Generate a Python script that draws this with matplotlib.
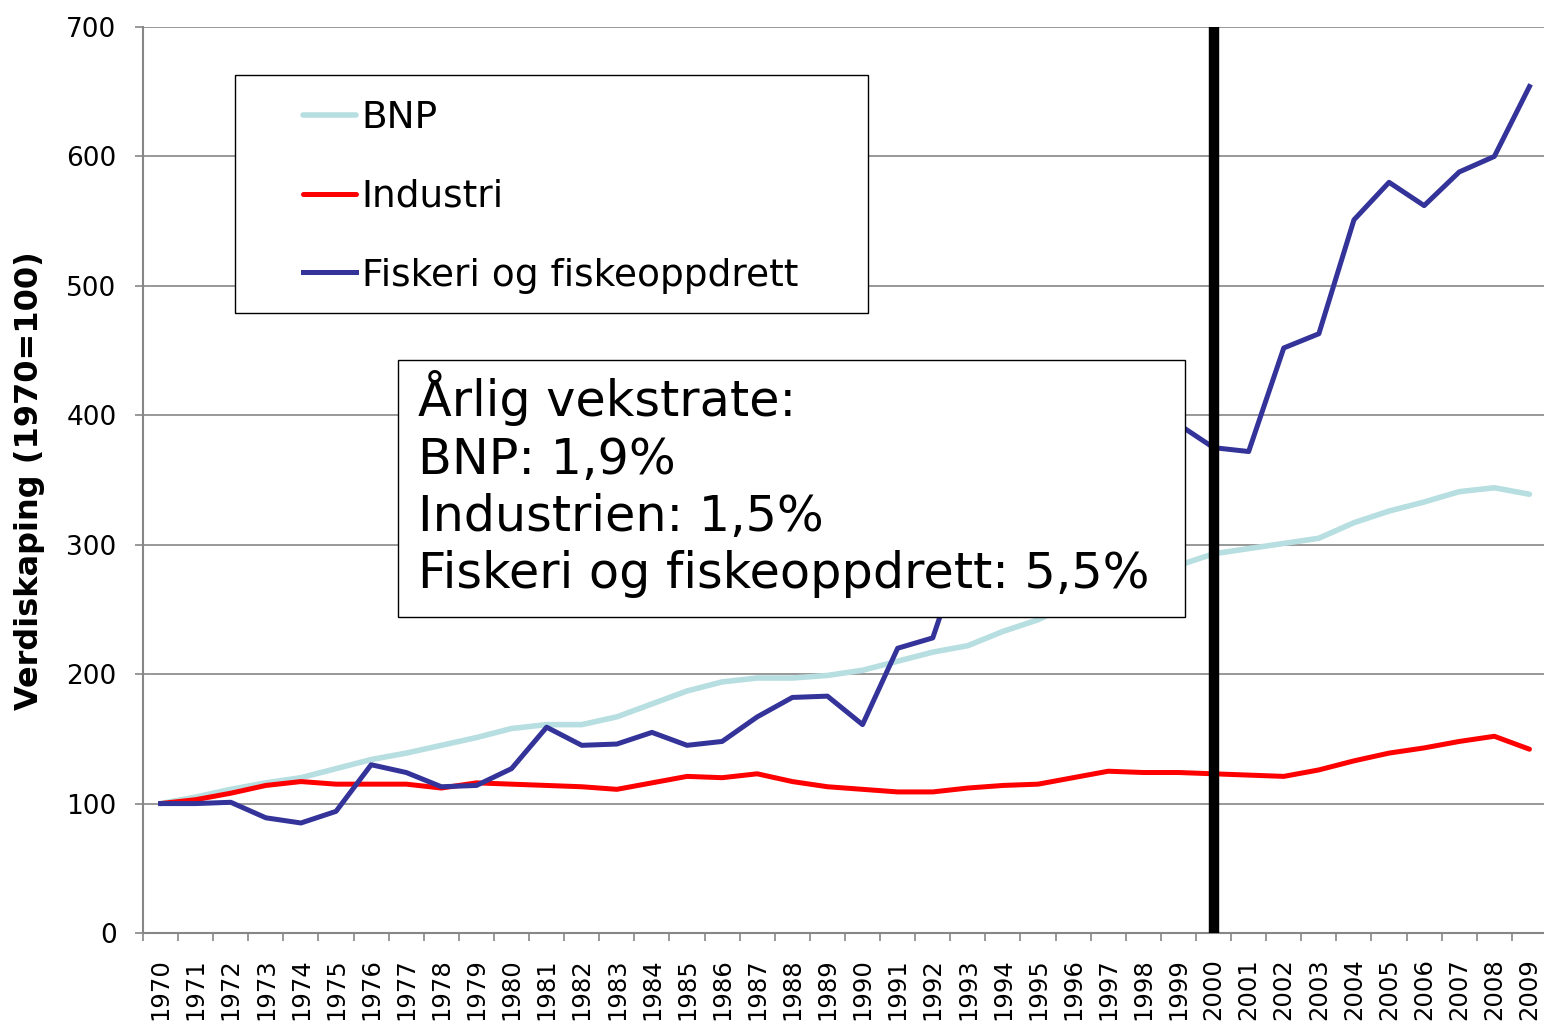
import matplotlib
matplotlib.use("Agg")
import matplotlib.pyplot as plt
from matplotlib.patches import Rectangle

# data (1970 = 100)
years = list(range(1970, 2010))
bnp = [100, 105, 111, 116, 120, 127, 134, 139, 145, 151,
       158, 161, 161, 167, 177, 187, 194, 197, 197, 199,
       203, 210, 217, 222, 233, 242, 255, 265, 274, 284,
       293, 297, 301, 305, 317, 326, 333, 341, 344, 339]
industri = [100, 103, 108, 114, 117, 115, 115, 115, 112, 116,
            115, 114, 113, 111, 116, 121, 120, 123, 117, 113,
            111, 109, 109, 112, 114, 115, 120, 125, 124, 124,
            123, 122, 121, 126, 133, 139, 143, 148, 152, 142]
fiskeri = [100, 100, 101, 89, 85, 94, 130, 124, 113, 114,
           127, 159, 145, 146, 155, 145, 148, 167, 182, 183,
           161, 220, 228, 308, 330, 345, 360, 385, 410, 393,
           375, 372, 452, 463, 551, 580, 562, 588, 600, 654]

W, H = 1544, 1026
fig = plt.figure(figsize=(W / 100, H / 100), dpi=100)
ax = fig.add_axes([143 / W, (H - 933) / H, 1404 / W, 906 / H])

grid_c = "#868686"
ax.plot(years, bnp, color="#b7dee0", lw=4, label="BNP", solid_capstyle="round")
ax.plot(years, industri, color="#ff0000", lw=3.6, label="Industri", solid_capstyle="round")
ax.plot(years, fiskeri, color="#333399", lw=3.6, label="Fiskeri og fiskeoppdrett")
ax.axvline(2000, color="black", lw=7.5, zorder=5)

ax.set_xlim(1969.5, 2009.5)
ax.set_ylim(0, 700)
ax.set_yticks(range(0, 701, 100))
ax.yaxis.grid(True, color=grid_c, lw=1.2)
ax.set_axisbelow(True)
ax.set_xticks(years)
ax.set_xticklabels([str(y) for y in years], rotation=90, va="top")
ax.set_xticks([y - 0.5 for y in years], minor=True)
ax.tick_params(axis="x", which="major", length=0, pad=18, labelsize=17.5)
ax.tick_params(axis="x", which="minor", length=6, width=1.2, color=grid_c, direction="out")
ax.tick_params(axis="y", length=6, width=1.2, color=grid_c, pad=13, labelsize=19)
for s in ["top", "right"]:
    ax.spines[s].set_visible(False)
for s in ["left", "bottom"]:
    ax.spines[s].set_color(grid_c)
    ax.spines[s].set_linewidth(1.5)

fig.text(30 / W, 1 - 481 / H, "Verdiskaping (1970=100)", rotation=90,
         ha="center", va="center", fontsize=23, fontweight="bold")

# legend box
ax.add_patch(Rectangle((235 / W, 1 - 313 / H), 633 / W, 238 / H,
                       transform=fig.transFigure, facecolor="white",
                       edgecolor="black", lw=1, zorder=6, clip_on=False))
leg = ax.legend(loc="upper left", bbox_to_anchor=(303 / W, 1 - 100 / H),
                bbox_transform=fig.transFigure, frameon=False, fontsize=27,
                handlelength=1.4, handletextpad=0.16, labelspacing=1.14,
                borderpad=0, borderaxespad=0)
leg.set_zorder(7)

# growth rate box
ax.add_patch(Rectangle((398 / W, 1 - 617 / H), 787 / W, 257 / H,
                       transform=fig.transFigure, facecolor="white",
                       edgecolor="black", lw=1, zorder=6, clip_on=False))
ax.text(418 / W, 1 - 370 / H,
        "Årlig vekstrate:\nBNP: 1,9%\nIndustrien: 1,5%\nFiskeri og fiskeoppdrett: 5,5%",
        transform=fig.transFigure, ha="left", va="top", fontsize=35.5,
        linespacing=1.25, zorder=7)

fig.savefig("out.png", dpi=100)
